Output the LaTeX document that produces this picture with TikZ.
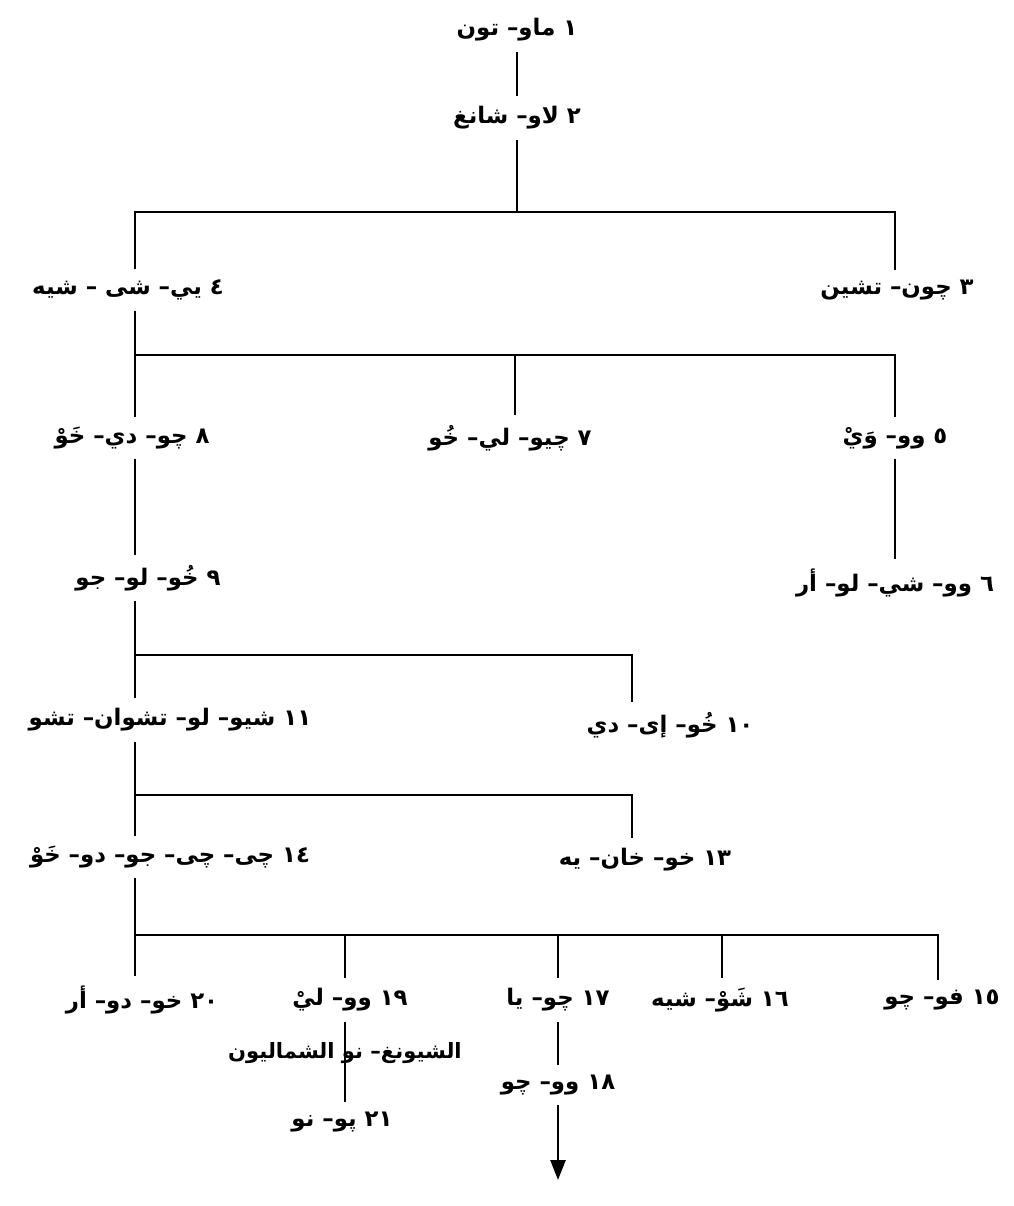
\documentclass[tikz,border=0pt]{standalone}
\usepackage{fontspec}
\newfontfamily\arabicfont[Script=Arabic]{DejaVu Sans}
\TeXXeTstate=1
\usepackage{tikz}
\usetikzlibrary{arrows.meta,positioning}
\newcommand{\ar}[1]{\beginR #1\endR}

\begin{document}
\begin{tikzpicture}[
    x=0.2mm, y=-0.2mm,
    person/.style={font=\arabicfont\bfseries\fontsize{13}{15}\selectfont, inner xsep=0.5mm, inner ysep=2mm},
    note/.style={font=\arabicfont\bfseries\fontsize{12}{14}\selectfont, inner sep=0pt},
    line/.style={line width=1.5pt}
]
\useasboundingbox (0,0) rectangle (1014,1206);

\node[person] (n1)  at (517,30)   {\ar{١ ماو– تون}};
\node[person] (n2)  at (517,118)  {\ar{٢ لاو– شانغ}};
\node[person] (n4)  at (128,290)  {\ar{٤ يي– شى – شيه}};
\node[person] (n3)  at (897,290)  {\ar{٣ چون– تشين}};
\node[person] (n8)  at (132,438)  {\ar{٨ چو– دي– خَوْ}};
\node[person] (n7)  at (510,438)  {\ar{٧ چيو– لي– خُو}};
\node[person] (n5)  at (895,438)  {\ar{٥ وو– وَيْ}};
\node[person] (n9)  at (148,578)  {\ar{٩ خُو– لو– جو}};
\node[person] (n6)  at (895,583)  {\ar{٦ وو– شي– لو– أر}};
\node[person] (n11) at (170,720)  {\ar{١١ شيو– لو– تشوان– تشو}};
\node[person] (n10) at (670,725)  {\ar{١٠ خُو– إى– دي}};
\node[person] (n14) at (170,857)  {\ar{١٤ چى– چى– جو– دو– خَوْ}};
\node[person] (n13) at (645,860)  {\ar{١٣ خو– خان– يه}};
\node[person] (n20) at (142,1000) {\ar{٢٠ خو– دو– أر}};
\node[person] (n19) at (350,1000) {\ar{١٩ وو– ليْ}};
\node[person] (n17) at (558,1000) {\ar{١٧ چو– يا}};
\node[person] (n16) at (720,1000) {\ar{١٦ شَوْ– شيه}};
\node[person] (n15) at (942,1000) {\ar{١٥ فو– چو}};
\node[person] (n18) at (558,1085) {\ar{١٨ وو– چو}};
\node[person] (n21) at (342,1122) {\ar{٢١ پو– نو}};

\coordinate (b1l) at (135,212);
\coordinate (b1r) at (895,212);
\coordinate (b2l) at (135,355);
\coordinate (b2m) at (515,355);
\coordinate (b2r) at (895,355);
\coordinate (b3l) at (135,655);
\coordinate (b3r) at (632,655);
\coordinate (b4l) at (135,795);
\coordinate (b4r) at (632,795);
\coordinate (b5l) at (135,935);
\coordinate (b5a) at (345,935);
\coordinate (b5b) at (558,935);
\coordinate (b5c) at (722,935);
\coordinate (b5r) at (938,935);
\coordinate (end) at (558,1180);

\draw[line] (n1) -- (n2);
\draw[line] (n2.south) -- (n2.south |- b1l);
\draw[line] (n4.north -| b1l) -- (b1l) -- (b1r) -- (b1r |- n3.north);

\draw[line] (n4.south -| b2l) -- (n8.north -| b2l);
\draw[line] (b2l) -- (b2r) -- (b2r |- n5.north);
\draw[line] (b2m) -- (b2m |- n7.north);
\draw[line] (n5.south -| b2r) -- (n6.north -| b2r);

\draw[line] (n8.south -| b2l) -- (n9.north -| b2l);
\draw[line] (n9.south -| b3l) -- (n11.north -| b3l);
\draw[line] (b3l) -- (b3r) -- (b3r |- n10.north);

\draw[line] (n11.south -| b4l) -- (n14.north -| b4l);
\draw[line] (b4l) -- (b4r) -- (b4r |- n13.north);

\draw[line] (n14.south -| b5l) -- (n20.north -| b5l);
\draw[line] (b5l) -- (b5r) -- (b5r |- n15.north);
\draw[line] (b5a) -- (b5a |- n19.north);
\draw[line] (b5b) -- (b5b |- n17.north);
\draw[line] (b5c) -- (b5c |- n16.north);

\draw[line] (n19.south -| b5a) -- (n21.north -| b5a);
\draw[line] (n17.south -| b5b) -- (n18.north -| b5b);
\draw[line, -{Triangle[length=4mm, width=3mm]}] (n18.south -| b5b) -- (end);

\node[note] (north) at (345,1053) {\ar{الشيونغ– نو الشماليون}};
\end{tikzpicture}
\end{document}
